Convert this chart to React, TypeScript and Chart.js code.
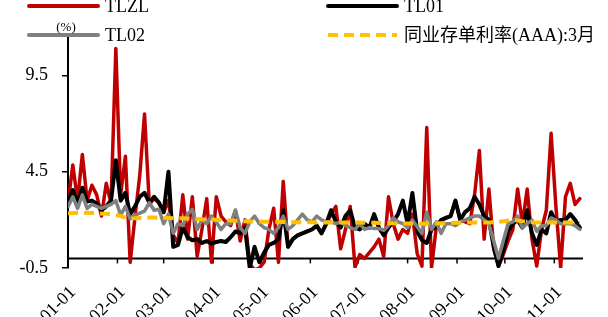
import React, { useEffect, useRef } from "react";
import { Chart, registerables } from "chart.js";

Chart.register(...registerables);

// Day of year 2024 (0 = 01-01), sampled every 3 days
const days = [
  0, 3, 6, 9, 12, 15, 18, 21, 24, 27,
  30, 33, 36, 39, 42, 45, 48, 51, 54, 57,
  60, 63, 66, 69, 72, 75, 78, 81, 84, 87,
  90, 93, 96, 99, 102, 105, 108, 111, 114, 117,
  120, 123, 126, 129, 132, 135, 138, 141, 144, 147,
  150, 153, 156, 159, 162, 165, 168, 171, 174, 177,
  180, 183, 186, 189, 192, 195, 198, 201, 204, 207,
  210, 213, 216, 219, 222, 225, 228, 231, 234, 237,
  240, 243, 246, 249, 252, 255, 258, 261, 264, 267,
  270, 273, 276, 279, 282, 285, 288, 291, 294, 297,
  300, 303, 306, 309, 312, 315, 318, 321,
];

const tlzl = [
  2.85, 4.85, 3.0, 5.4, 3.0, 3.8, 3.3, 2.2, 3.9, 2.85,
  10.9, 3.3, 5.3, -0.2, 2.15, 4.3, 7.5, 2.8, 3.1, 2.9,
  2.4, 3.0, 1.2, 0.8, 3.3, 1.0, 3.2, 0.1, 1.5, 3.1,
  -0.2, 3.2, 2.2, 1.9, 1.7, 2.5, 0.9, 2.0, -0.3, -0.6,
  -0.5, -0.2, 1.5, 2.6, -0.2, 4.0, 0.6, 1.0, 1.2, 1.3,
  1.4, 1.5, 1.7, 1.3, 1.8, 2.3, 2.7, 0.5, 1.5, 2.7,
  -0.45, 0.2, 0.0, 0.3, 0.6, 1.0, 0.1, 3.2, 1.8, 1.0,
  1.5, 1.3, 2.3, 0.25, -0.4, 6.8, -0.5, 1.64, 1.99, 2.1,
  2.2, 3.0, 1.99, 1.9, 1.8, 3.3, 5.6, 1.0, 3.6, 0.5,
  -0.4, 0.2, 0.9, 1.5, 3.6, 1.8, 3.6, 1.0, -0.4, 1.5,
  2.5, 6.5, 2.7, -0.5, 3.2, 3.9, 2.8, 3.1,
];

const tl01 = [
  2.95, 3.55, 2.85, 3.67, 2.95, 3.0, 2.85, 2.5, 2.7, 3.0,
  5.1, 3.0, 3.4, 2.3, 2.7, 3.2, 3.4, 2.9, 3.2, 2.9,
  2.4, 4.5, 0.6, 0.7, 1.6, 1.1, 0.94, 1.0, 0.8, 0.9,
  0.77, 0.85, 0.9, 0.85, 1.1, 1.4, 1.3, 1.6, -0.5, 0.6,
  -0.2, 0.3, 0.7, 0.8, 1.0, 2.5, 0.6, 1.0, 1.2, 1.3,
  1.4, 1.5, 1.7, 1.3, 1.8, 2.5, 1.9, 1.6, 2.2, 2.5,
  1.6, 1.5, 1.8, 1.6, 2.3, 1.6, 1.2, 1.6, 1.9, 2.3,
  3.0, 1.8, 3.4, 1.4, 0.95, 0.8, 1.5, 1.64, 1.99, 2.1,
  2.2, 3.0, 1.99, 2.4, 2.6, 3.2, 2.8, 2.2, 2.0, 0.6,
  -0.4, 0.4, 1.4, 1.8, 2.0, 1.6, 2.5, 1.3, 0.7, 1.5,
  1.3, 2.4, 1.9, 2.0, 2.0, 2.3, 2.0, 1.6,
];

const tl02 = [
  2.68, 3.2, 2.6, 3.3, 2.6, 2.8, 2.7, 2.6, 2.7, 2.8,
  3.0, 2.25, 2.7, 2.05, 2.25, 2.35, 2.45, 2.9, 2.5, 2.55,
  1.8, 2.3, 1.3, 1.8, 1.7, 2.3, 2.55, 1.5, 2.0, 1.8,
  2.2, 1.9, 1.5, 1.8, 1.8, 2.5, 1.6, 1.3, 1.9, 2.2,
  1.8, 1.6, 1.5, 1.3, 1.6, 2.2, 1.5, 1.7, 2.0, 2.3,
  2.0, 1.9, 2.2, 2.0, 1.9, 1.9, 1.8, 1.9, 1.7, 1.6,
  1.5, 1.8, 1.5, 1.6, 1.55, 1.55, 1.46, 1.7, 2.1, 1.9,
  1.8, 1.6, 1.99, 1.64, 1.3, 2.4, 1.5, 1.9, 1.3, 1.8,
  1.8, 1.7, 1.9, 1.99, 2.1, 2.2, 2.2, 2.0, 1.8, 0.9,
  0.0, 0.9, 1.8, 1.9, 2.2, 1.6, 1.8, 1.99, 1.4, 1.7,
  1.7, 2.1, 1.99, 1.8, 1.8, 1.8, 1.7, 1.5,
];

const ncd3m = [
  2.35, 2.36, 2.37, 2.37, 2.37, 2.36, 2.35, 2.33, 2.32, 2.30,
  2.25, 2.2, 2.12, 2.07, 2.08, 2.1, 2.1, 2.12, 2.12, 2.11,
  2.1, 2.1, 2.09, 2.08, 2.08, 2.07, 2.05, 2.04, 2.03, 2.02,
  2.02, 2.0, 1.99, 1.98, 1.97, 1.95, 1.94, 1.93, 1.92, 1.92,
  1.91, 1.9, 1.9, 1.9, 1.9, 1.89, 1.89, 1.88, 1.88, 1.88,
  1.88, 1.88, 1.87, 1.87, 1.87, 1.86, 1.86, 1.86, 1.86, 1.86,
  1.86, 1.86, 1.85, 1.85, 1.85, 1.84, 1.84, 1.83, 1.83, 1.82,
  1.82, 1.81, 1.81, 1.8, 1.8, 1.8, 1.81, 1.82, 1.83, 1.84,
  1.84, 1.85, 1.85, 1.86, 1.86, 1.86, 1.86, 1.86, 1.87, 1.88,
  1.9, 1.93, 1.96, 1.98, 1.97, 1.93, 1.9, 1.88, 1.87, 1.87,
  1.86, 1.87, 1.87, 1.87, 1.86, 1.86, 1.86, 1.86,
];

const monthTicks = [0, 31, 60, 91, 121, 152, 182, 213, 244, 274, 305];
const monthLabels = ["01-01", "02-01", "03-01", "04-01", "05-01", "06-01", "07-01", "08-01", "09-01", "10-01", "11-01"];
const yTicks = [-0.5, 4.5, 9.5];
const seriesNames = ["TLZL", "TL01", "TL02", "同业存单利率(AAA):3月"];
const unitLabel = "(%)";

const FONT = "'Liberation Serif', 'Times New Roman', 'Noto Sans CJK SC', serif";

const toPoints = (vals: number[]) => days.map((d, i) => ({ x: d, y: vals[i] }));

const zeroAxisPlugin = {
  id: "zeroAxis",
  beforeDatasetsDraw(chart: any) {
    const { ctx, chartArea, scales } = chart;
    const y0 = scales.y.getPixelForValue(0);
    ctx.save();
    ctx.strokeStyle = "#000";
    ctx.lineWidth = 2;
    ctx.beginPath();
    ctx.moveTo(chartArea.left, y0);
    ctx.lineTo(chartArea.right, y0);
    ctx.stroke();
    ctx.lineWidth = 1.5;
    monthTicks.forEach((d, i) => {
      if (i === 0) return;
      const x = scales.x.getPixelForValue(d);
      ctx.beginPath();
      ctx.moveTo(x, y0);
      ctx.lineTo(x, y0 + 5);
      ctx.stroke();
    });
    ctx.restore();
  },
};

const legendPlugin = {
  id: "customLegend",
  afterDraw(chart: any) {
    const ctx = chart.ctx;
    const slots = [
      [29, 6],
      [328, 6],
      [29, 35],
      [328, 35],
    ];
    ctx.save();
    chart.data.datasets.forEach((ds: any, i: number) => {
      const [x, y] = slots[i];
      ctx.strokeStyle = ds.borderColor;
      ctx.lineWidth = 4;
      ctx.lineCap = ds.borderDash && ds.borderDash.length ? "butt" : "round";
      ctx.setLineDash(ds.borderDash || []);
      ctx.beginPath();
      ctx.moveTo(x, y);
      ctx.lineTo(x + 69, y);
      ctx.stroke();
      ctx.setLineDash([]);
      ctx.fillStyle = "#000";
      ctx.font = `18px ${FONT}`;
      ctx.textAlign = "left";
      ctx.textBaseline = "middle";
      ctx.fillText(ds.label, x + 76, y + 1);
    });
    ctx.font = `13px ${FONT}`;
    ctx.textAlign = "center";
    ctx.textBaseline = "middle";
    ctx.fillStyle = "#000";
    ctx.fillText(unitLabel, 66, 28);
    ctx.restore();
  },
};

export default function App() {
  const ref = useRef<HTMLCanvasElement>(null);
  useEffect(() => {
    document.body.style.margin = "0";
    const chart = new Chart(ref.current as HTMLCanvasElement, {
      type: "line",
      data: {
        datasets: [
          {
            label: seriesNames[0],
            data: toPoints(tlzl),
            borderColor: "#C00000",
            borderWidth: 3.5,
            order: 3,
          },
          {
            label: seriesNames[1],
            data: toPoints(tl01),
            borderColor: "#000000",
            borderWidth: 4,
            order: 2,
          },
          {
            label: seriesNames[2],
            data: toPoints(tl02),
            borderColor: "#808080",
            borderWidth: 3.5,
            order: 1,
          },
          {
            label: seriesNames[3],
            data: toPoints(ncd3m),
            borderColor: "#FFC000",
            borderWidth: 4,
            borderDash: [10, 6],
            borderCapStyle: "butt",
            order: 0,
          },
        ] as any,
      },
      options: {
        animation: false,
        responsive: false,
        devicePixelRatio: 1,
        elements: {
          point: { radius: 0, hoverRadius: 0 },
          line: { tension: 0, borderJoinStyle: "round", borderCapStyle: "round" },
        },
        layout: {
          autoPadding: false,
          padding: { top: 37, right: 25, bottom: 0, left: 0 },
        } as any,
        plugins: {
          legend: { display: false },
          tooltip: { enabled: false },
        },
        scales: {
          x: {
            type: "linear",
            min: 0,
            max: 323,
            afterBuildTicks: (s: any) => {
              s.ticks = monthTicks.map((v) => ({ value: v }));
            },
            afterFit: (s: any) => {
              s.height = 49;
            },
            ticks: {
              autoSkip: false,
              minRotation: 45,
              maxRotation: 45,
              padding: 14,
              labelOffset: 5,
              color: "#000",
              font: { family: FONT, size: 18 },
              callback: (v: any) => monthLabels[monthTicks.indexOf(Number(v))],
            },
            grid: { display: false, drawTicks: false },
            border: { display: false },
          },
          y: {
            min: -0.5,
            max: 11.5,
            afterBuildTicks: (s: any) => {
              s.ticks = yTicks.map((v) => ({ value: v }));
            },
            afterFit: (s: any) => {
              s.width = 68;
            },
            ticks: {
              padding: 14,
              color: "#000",
              font: { family: FONT, size: 18 },
              callback: (v: any) => String(v),
            },
            grid: {
              display: true,
              drawOnChartArea: false,
              drawTicks: true,
              tickLength: 6,
              color: "#000",
              lineWidth: 1.5,
            },
            border: { display: true, color: "#000", width: 2 },
          },
        },
      },
      plugins: [zeroAxisPlugin, legendPlugin],
    });
    return () => chart.destroy();
  }, []);
  return (
    <div style={{ width: 608, height: 317, position: "relative" }}>
      <canvas ref={ref} width={608} height={317} style={{ display: "block" }} />
    </div>
  );
}
